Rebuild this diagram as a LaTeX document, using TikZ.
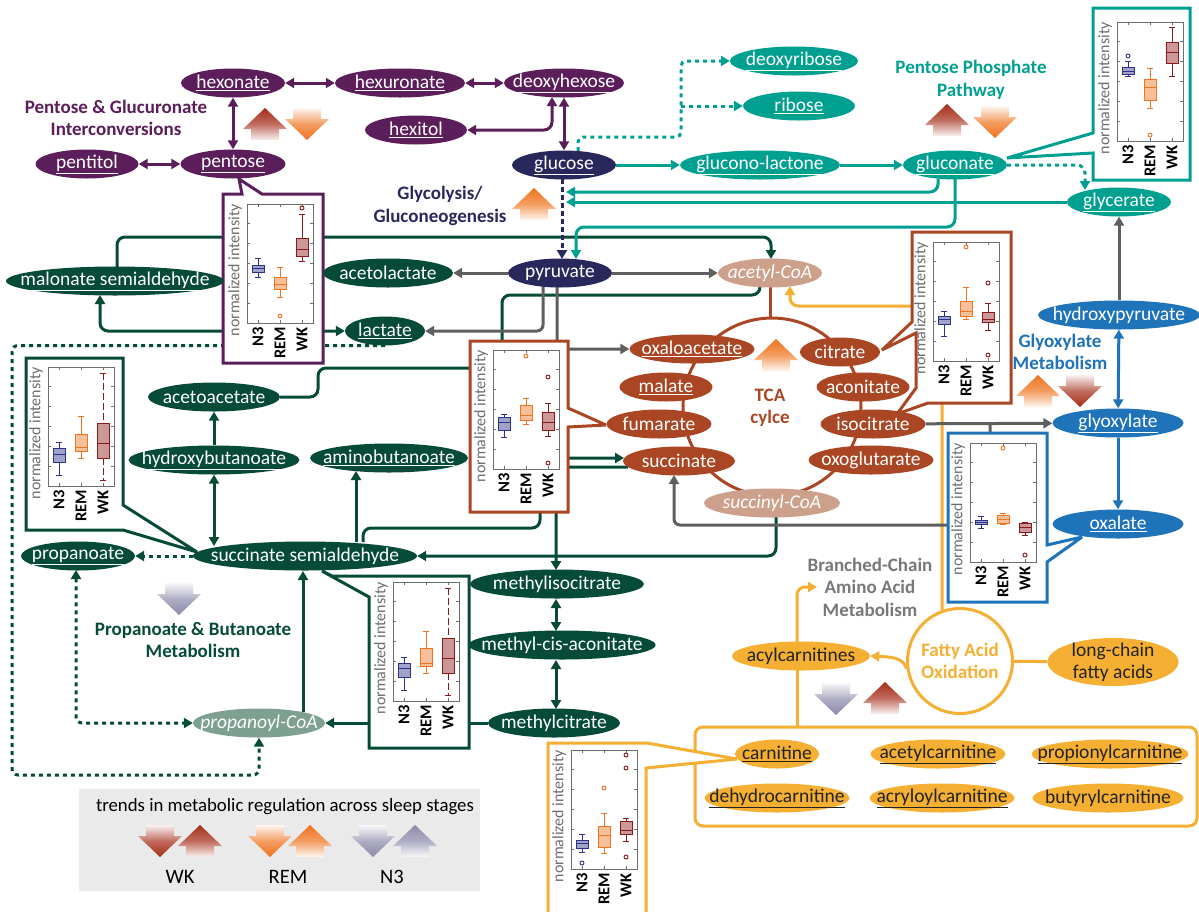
\documentclass[tikz,border=0pt]{standalone}
\usepackage{fontspec}
\setmainfont{Carlito}
\usetikzlibrary{arrows.meta,shapes.geometric}
\pgfdeclarelayer{bg}
\pgfdeclarelayer{mid}
\pgfsetlayers{bg,mid,main}
\definecolor{cPur}{RGB}{92,30,90}
\definecolor{cNavy}{RGB}{40,40,92}
\definecolor{cTeal}{RGB}{0,160,145}
\definecolor{cGrn}{RGB}{5,75,55}
\definecolor{cGrnL}{RGB}{125,160,145}
\definecolor{cBrn}{RGB}{170,70,35}
\definecolor{cBrnL}{RGB}{205,160,140}
\definecolor{cBlu}{RGB}{30,115,185}
\definecolor{cYel}{RGB}{245,175,50}
\definecolor{cGry}{RGB}{95,95,95}
\definecolor{cDark}{RGB}{35,35,35}
\definecolor{cN3}{RGB}{45,50,135}
\definecolor{cREM}{RGB}{240,115,30}
\definecolor{cWK}{RGB}{140,25,25}
\definecolor{tWK}{RGB}{165,45,25}
\definecolor{tREM}{RGB}{238,115,30}
\definecolor{tN3}{RGB}{140,138,170}
\definecolor{cLeg}{RGB}{234,234,234}
\definecolor{cBCAA}{RGB}{120,120,120}
\definecolor{axc}{RGB}{110,110,110}
\tikzset{
  ell/.style={ellipse, inner sep=0pt, minimum height=29pt, draw=none},
  etxt/.style={inner sep=0pt, font=\fontsize{19.5}{22}\selectfont},
  ttl/.style={inner sep=0pt, align=center, font=\fontsize{19}{22.5}\selectfont\bfseries},
  arr/.style={-{Triangle[length=9pt,width=10pt]}},
  darr/.style={{Triangle[length=9pt,width=10pt]}-{Triangle[length=9pt,width=10pt]}},
  dotl/.style={dash pattern=on 4pt off 4pt},
  Lpur/.style={cPur, line width=3pt},
  Lteal/.style={cTeal, line width=3pt},
  Lgrn/.style={cGrn, line width=3pt},
  Lgry/.style={cGry, line width=3pt},
  Lblu/.style={cBlu, line width=3pt},
  Lyel/.style={cYel, line width=3pt},
  Lbrn/.style={cBrn, line width=3pt},
  inset/.style={line width=3pt, fill=white, line join=miter, miter limit=3},
  ylab/.style={rotate=90, anchor=east, inner sep=0pt, text=axc, font=\fontsize{16}{16}\selectfont},
  xlab/.style={rotate=90, anchor=east, inner sep=0pt, font=\fontsize{16.5}{16.5}\selectfont\bfseries},
}
\newcommand\metab[7][white]{%
  \node[ell, fill=#6, minimum width=#5pt] (#2) at (#3,#4) {};
  \node[etxt, text=#1] (#2t) at (#2) {#7};}
\newcommand\plotaxes[2]{%
  \draw[axc, line width=0.8pt] (#1,#2) rectangle (#1+66,#2+119);
  \foreach \k in {1,2,3,4,5}{%
    \draw[axc, line width=0.7pt] (#1,#2+\k*19.83) -- ++(3,0);
    \draw[axc, line width=0.7pt] (#1+66,#2+\k*19.83) -- ++(-3,0);}
  \foreach \k in {11,33,55}{%
    \draw[axc, line width=0.7pt] (#1+\k,#2) -- ++(0,3);
    \draw[axc, line width=0.7pt] (#1+\k,#2+119) -- ++(0,-3);}
  \node[ylab] at (#1-12,#2) {normalized intensity};
  \node[xlab] at (#1+11,#2+123) {N3};
  \node[xlab] at (#1+33,#2+123) {REM};
  \node[xlab] at (#1+55,#2+123) {WK};}
\newcommand\bplot[8][]{%
  \draw[#8, line width=0.9pt, #1] (#2,#3) -- (#2,#4) (#2,#6) -- (#2,#7);
  \draw[#8, line width=0.9pt] (#2-3,#3) -- (#2+3,#3) (#2-3,#7) -- (#2+3,#7);
  \draw[#8, fill=#8!45, line width=0.9pt] (#2-6,#4) rectangle (#2+6,#6);
  \draw[#8, line width=0.9pt] (#2-6,#5) -- (#2+6,#5);}
\newcommand\bout[3]{\draw[#3, line width=0.9pt] (#1,#2) circle (2pt);}
\newcommand\trendup[3]{%
  \shade[top color=#3, bottom color=#3!6, middle color=#3!70] (#1,#2) -- (#1+22,#2+21) -- (#1+14,#2+21) -- (#1+14,#2+32) -- (#1-14,#2+32) -- (#1-14,#2+21) -- (#1-22,#2+21) -- cycle;}
\newcommand\trenddn[3]{%
  \shade[top color=#3!6, bottom color=#3, middle color=#3!70] (#1-14,#2) -- (#1+14,#2) -- (#1+14,#2+11) -- (#1+22,#2+11) -- (#1,#2+32) -- (#1-22,#2+11) -- (#1-14,#2+11) -- cycle;}
\begin{document}
\begin{tikzpicture}[x=1pt,y=-1pt]
\useasboundingbox (0,0) rectangle (1199,911);
% ---------------- nodes ----------------
\metab{hexonate}{233}{83}{104}{cPur}{\underline{hexonate}}
\metab{hexuronate}{400}{83}{130}{cPur}{\underline{hexuronate}}
\metab{deoxyhexose}{564}{83}{120}{cPur}{\underline{deoxyhexose}}
\metab{hexitol}{416}{130}{102}{cPur}{\underline{hexitol}}
\metab{pentitol}{87}{164}{103}{cPur}{\underline{pentitol}}
\metab{pentose}{233}{164}{105}{cPur}{\underline{pentose}}
\metab{glucose}{564}{165}{104}{cNavy}{\underline{glucose}}
\metab{pyruvate}{560}{273}{104}{cNavy}{pyruvate}
\metab{deoxyribose}{794}{61}{128}{cTeal}{\underline{deoxyribose}}
\metab{ribose}{799}{106}{112}{cTeal}{\underline{ribose}}
\metab{gluconolactone}{760}{165}{160}{cTeal}{\underline{glucono-lactone}}
\metab{gluconate}{955}{165}{104}{cTeal}{\underline{gluconate}}
\metab{glycerate}{1119}{202}{104}{cTeal}{\underline{glycerate}}
\metab{malonate}{115}{281}{218}{cGrn}{\underline{malonate semialdehyde}}
\metab{acetolactate}{388}{273}{130}{cGrn}{acetolactate}
\metab{lactate}{385}{331}{80}{cGrn}{\underline{lactate}}
\metab{acetoacetate}{214}{397}{132}{cGrn}{acetoacetate}
\metab{hydroxybutanoate}{214}{460}{171}{cGrn}{\underline{hydroxybutanoate}}
\metab{aminobutanoate}{389}{458}{158}{cGrn}{\underline{aminobutanoate}}
\metab{ssa}{305}{556}{224}{cGrn}{succinate semialdehyde}
\metab{propanoate}{78}{556}{114}{cGrn}{\underline{propanoate}}
\metab{propanoylcoa}{259}{723}{132}{cGrnL}{\textit{propanoyl-CoA}}
\metab{methylisocitrate}{557}{584}{174}{cGrn}{methylisocitrate}
\metab{methylcisaconitate}{562}{645}{187}{cGrn}{methyl-cis-aconitate}
\metab{methylcitrate}{554}{723}{132}{cGrn}{methylcitrate}
\metab{acetylcoa}{770}{273}{104}{cBrnL}{\textit{acetyl-CoA}}
\metab{oxaloacetate}{692}{349}{125}{cBrn}{\underline{oxaloacetate}}
\metab{malate}{666}{387}{93}{cBrn}{\underline{malate}}
\metab{fumarate}{659}{424}{105}{cBrn}{fumarate}
\metab{succinate}{679}{461}{112}{cBrn}{succinate}
\metab{succinylcoa}{772}{503}{136}{cBrnL}{\textit{succinyl-CoA}}
\metab{citrate}{840}{352}{80}{cBrn}{citrate}
\metab{aconitate}{863}{387}{93}{cBrn}{aconitate}
\metab{isocitrate}{873}{424}{105}{cBrn}{isocitrate}
\metab{oxoglutarate}{871}{460}{125}{cBrn}{oxoglutarate}
\metab{hydroxypyruvate}{1119}{315}{162}{cBlu}{hydroxypyruvate}
\metab{glyoxylate}{1118}{423}{131}{cBlu}{\underline{glyoxylate}}
\metab{oxalate}{1118}{524}{131}{cBlu}{\underline{oxalate}}
\metab[cDark]{acylcarnitines}{801}{656}{138}{cYel}{acylcarnitines}
\metab[cDark]{carnitine}{777}{754}{84}{cYel}{\underline{carnitine}}
\metab[cDark]{acetylcarnitine}{938}{754}{135}{cYel}{\underline{acetylcarnitine}}
\metab[cDark]{propionylcarnitine}{1110}{754}{157}{cYel}{\underline{propionylcarnitine}}
\metab[cDark]{dehydrocarnitine}{777}{798}{145}{cYel}{\underline{dehydrocarnitine}}
\metab[cDark]{acryloylcarnitine}{942}{798}{145}{cYel}{\underline{acryloylcarnitine}}
\metab[cDark]{butyrylcarnitine}{1108}{798}{151}{cYel}{butyrylcarnitine}
\node[ell, fill=cYel, minimum width=131pt, minimum height=48pt] (lcfa) at (1113,662) {};
\node[etxt, text=cDark, align=center, font=\fontsize{19.5}{22}\selectfont] (lcfat) at (lcfa) {long-chain\\fatty acids};
\node[circle, draw=cYel, line width=3pt, fill=white, minimum size=105pt, inner sep=0pt] (fao) at (960,661) {};
\node[ttl, text=cYel] (faot) at (fao) {Fatty Acid\\Oxidation};
% ---------------- titles ----------------
\node[ttl, text=cPur] (tpg) at (116,118) {Pentose \& Glucuronate\\Interconversions};
\node[ttl, text=cTeal] (tppp) at (971,80) {Pentose Phosphate\\Pathway};
\node[ttl, text=cNavy] (tgly) at (440,206) {Glycolysis/\\Gluconeogenesis};
\node[ttl, text=cBrn] (ttca) at (770,408) {TCA\\cylce};
\node[ttl, text=cBlu] (tglx) at (1060,352) {Glyoxylate\\Metabolism};
\node[ttl, text=cGrn] (tpb) at (193,640) {Propanoate \& Butanoate\\Metabolism};
\node[ttl, text=cBCAA] (tbc) at (870,587) {Branched-Chain\\Amino Acid\\Metabolism};
% ---------------- trend arrows ----------------
\trendup{265}{108}{tWK}
\trenddn{307}{108}{tREM}
\trendup{534}{188}{tREM}
\trendup{947}{104}{tWK}
\trenddn{995}{106}{tREM}
\trendup{776}{339}{tREM}
\trendup{1038}{375}{tREM}
\trenddn{1080}{375}{tWK}
\trenddn{179}{583}{tN3}
\trenddn{836}{683}{tN3}
\trendup{885}{682}{tWK}
% ---------------- legend ----------------
\node[fill=cLeg, minimum width=401pt, minimum height=102pt, inner sep=0pt, anchor=north west] (legbox) at (79,789) {};
\node[inner sep=0pt, font=\fontsize{18.8}{19}\selectfont] (legt) at (285,807) {trends in metabolic regulation across sleep stages};
\trenddn{160}{825}{tWK}
\trendup{200}{825}{tWK}
\trenddn{270}{825}{tREM}
\trendup{310}{825}{tREM}
\trenddn{373}{825}{tN3}
\trendup{415}{825}{tN3}
\node[inner sep=0pt, font=\fontsize{20.5}{21}\selectfont] (legwk) at (180,877) {WK};
\node[inner sep=0pt, font=\fontsize{20.5}{21}\selectfont] (legrem) at (288,877) {REM};
\node[inner sep=0pt, font=\fontsize{20.5}{21}\selectfont] (legn3) at (392,877) {N3};
% ---------------- insets ----------------
\begin{pgfonlayer}{mid}
% pentose
\draw[inset, draw=cPur] (223,194) -- (242,194) -- (239,179) -- (262,194) -- (323,194) -- (323,363) -- (223,363) -- cycle;
\plotaxes{247}{204}
\bplot{258}{258}{265}{268}{272}{277}{cN3}
\bplot{280}{267}{277}{284}{289}{297}{cREM}\bout{280}{316}{cREM}
\bplot{302}{214}{238}{249}{256}{261}{cWK}\bout{302}{208}{cWK}
% gluconate
\draw[inset, draw=cTeal] (1093,8) -- (1190,8) -- (1190,180) -- (1093,180) -- (1093,153) -- (1007,158) -- (1093,133) -- cycle;
\plotaxes{1117}{22}
\bplot{1128}{61}{67}{71}{74}{76}{cN3}\bout{1128}{56}{cN3}
\bplot{1150}{68}{79}{87}{100}{108}{cREM}\bout{1150}{135}{cREM}
\bplot{1172}{27}{42}{52}{63}{76}{cWK}
% fumarate
\draw[inset, draw=cBrn] (470,341) -- (568,341) -- (568,408) -- (606,425) -- (568,427) -- (568,512) -- (470,512) -- cycle;
\plotaxes{493}{350}
\bplot{504}{414}{417}{422}{430}{437}{cN3}
\bplot{526}{398}{405}{415}{420}{424}{cREM}\bout{526}{356}{cREM}
\bplot{548}{403}{412}{422}{430}{436}{cWK}\bout{548}{377}{cWK}\bout{548}{463}{cWK}
% citrate / isocitrate
\draw[inset, draw=cBrn] (912,232) -- (1011,232) -- (1011,403) -- (928,403) -- (897,414) -- (916,388) -- (916,333) -- (882,350) -- (912,322) -- cycle;
\plotaxes{933}{242}
\bplot{944}{311}{316}{319}{324}{336}{cN3}
\bplot{966}{287}{301}{311}{316}{319}{cREM}\bout{966}{247}{cREM}
\bplot{988}{303}{312}{319}{322}{330}{cWK}\bout{988}{283}{cWK}\bout{988}{355}{cWK}
% oxalate
\draw[inset, draw=cBlu] (948,433) -- (1047,433) -- (1047,545) -- (1082,537) -- (1047,562) -- (1047,602) -- (948,602) -- cycle;
\plotaxes{970}{443}
\bplot{981}{516}{520}{522}{524}{528}{cN3}
\bplot{1003}{513}{515}{519}{523}{524}{cREM}\bout{1003}{448}{cREM}
\bplot{1025}{522}{523}{527}{532}{535}{cWK}\bout{1025}{555}{cWK}
% succinate semialdehyde (left)
\draw[inset, draw=cGrn] (26,358) -- (123,358) -- (123,505) -- (197,552) -- (123,530) -- (26,530) -- cycle;
\plotaxes{48}{367}
\bplot{59}{442}{448}{454}{462}{475}{cN3}
\bplot{81}{416}{434}{447}{451}{458}{cREM}
\bplot[dash pattern=on 7pt off 3pt]{103}{373}{423}{443}{458}{480}{cWK}
% succinate semialdehyde (right)
\draw[inset, draw=cGrn] (322,571) -- (332,576) -- (469,576) -- (469,748) -- (369,748) -- (369,597) -- cycle;
\plotaxes{393}{582}
\bplot{404}{657}{663}{668}{677}{690}{cN3}
\bplot{426}{631}{648}{663}{666}{673}{cREM}
\bplot[dash pattern=on 7pt off 3pt]{448}{588}{638}{658}{673}{695}{cWK}
% carnitine
\draw[inset, draw=cYel] (548,916) -- (548,743) -- (647,743) -- (737,759) -- (646,768) -- (646,916);
\plotaxes{571}{750}
\bplot{582}{834}{840}{843}{848}{852}{cN3}\bout{582}{863}{cN3}
\bplot{604}{813}{826}{835}{847}{853}{cREM}\bout{604}{788}{cREM}
\bplot{626}{818}{821}{830}{834}{841}{cWK}\bout{626}{755}{cWK}\bout{626}{768}{cWK}\bout{626}{857}{cWK}
\end{pgfonlayer}
% ---------------- connectors ----------------
\begin{pgfonlayer}{bg}
\fill[white] (0,0) rectangle (1199,911);
% purple
\draw[Lpur, darr] (hexonate) -- (hexuronate);
\draw[Lpur, darr] (hexuronate) -- (deoxyhexose);
\draw[Lpur, darr] (hexonate) -- (pentose);
\draw[Lpur, darr] (pentitol) -- (pentose);
\draw[Lpur, darr, rounded corners=8pt] (hexitol.east) -- (552,130) -- (552,97);
\draw[Lpur, darr] (deoxyhexose.south) -- (glucose.north);
% yellow
\draw[Lyel, arr, rounded corners=8pt] (942,610) -- (942,306) -- (790,306) -- (790,286);
\draw[Lyel, arr] (fao.188) .. controls (903,657) and (890,657) .. (acylcarnitines.east);
\draw[Lyel] (fao) -- (lcfa);
\draw[Lyel, arr, rounded corners=8pt] (797,642) -- (797,587) -- (817,587);
\draw[Lyel] (797,670) -- (797,727);
\draw[Lyel, rounded corners=8pt] (695,727) rectangle (1197,826);
% green
\draw[Lgrn, arr, rounded corners=8pt] (117,267) -- (117,237) -- (771,237) -- (771,259);
\draw[Lgrn, darr, rounded corners=8pt] (100,295) -- (100,331) -- (lactate.west);
\draw[Lgrn, dotl, arr, rounded corners=6pt] (lactate.south) -- (12,345.5) -- (12,775) -| (propanoylcoa.south);
\draw[Lgrn, arr] (hydroxybutanoate) -- (acetoacetate);
\draw[Lgrn, darr] (214,546) -- (hydroxybutanoate.south);
\draw[Lgrn, arr] (356,542) -- (356,471);
\draw[Lgrn, dotl, arr] (ssa) -- (propanoate);
\draw[Lgrn, dotl, darr, rounded corners=6pt] (76,570) -- (76,723) -- (propanoylcoa.west);
\draw[Lgrn, arr] (303,712) -- (303,571);
\draw[Lgrn, arr] (methylcitrate) -- (propanoylcoa);
\draw[Lgrn, arr, rounded corners=8pt] (776,517) -- (776,556) -- (ssa.east);
\draw[Lgrn, arr, rounded corners=8pt] (363,542) -- (363,528) -- (540,528) -- (540,458) -- (624,458);
\draw[Lgrn, arr, rounded corners=8pt] (628,467) -- (556,467) -- (556,570);
\draw[Lgrn, rounded corners=8pt] (acetoacetate.east) -- (318,397) -- (318,368) -- (502,368) -- (502,295) -- (760,295) -- (760,286);
\draw[Lgrn, darr] (556,599) -- (556,631);
\draw[Lgrn, darr] (556,660) -- (556,709);
% teal
\draw[Lteal, arr] (glucose) -- (gluconolactone);
\draw[Lteal, arr] (gluconolactone) -- (gluconate);
\draw[Lteal, dotl, arr, rounded corners=5pt] (578,151) -- (578,137) -- (681,137) -- (681,61) -- (deoxyribose.west);
\draw[Lteal, dotl, arr] (681,106) -- (ribose.west);
\draw[Lteal, dotl, arr, rounded corners=8pt] (gluconate.east) -- (1085,165) -- (1085,190);
\draw[Lteal, arr, rounded corners=8pt] (938,179) -- (938,192) -- (566,192);
\draw[Lteal, arr] (glycerate.west) -- (566,202);
\draw[Lteal, arr, rounded corners=8pt] (955,179) -- (955,227) -- (576,227) -- (576,259);
% navy
\draw[cNavy, line width=3pt, dash pattern=on 5pt off 3pt, arr] (562,179) -- (562,259);
% gray
\draw[Lgry, arr] (pyruvate) -- (acetolactate);
\draw[Lgry, arr] (pyruvate) -- (acetylcoa);
\draw[Lgry, arr, rounded corners=6pt] (543,286) -- (543,331) -- (lactate.east);
\draw[Lgry, arr, rounded corners=6pt] (557,287) -- (557,349) -- (oxaloacetate.west);
\draw[Lgry, arr] (hydroxypyruvate) -- (glycerate);
\draw[Lgry, arr] (isocitrate) -- (glyoxylate);
\draw[Lgry, arr, rounded corners=6pt] (990,423) -- (990,525) -- (674,525) -- (674,475);
% brown
\draw[Lbrn] (770,287) -- (770,318);
\draw[Lbrn] (772,407) circle (89pt);
% blue
\draw[Lblu, darr] (hydroxypyruvate) -- (glyoxylate);
\draw[Lblu, arr] (glyoxylate) -- (oxalate);
\end{pgfonlayer}
\end{tikzpicture}
\end{document}
